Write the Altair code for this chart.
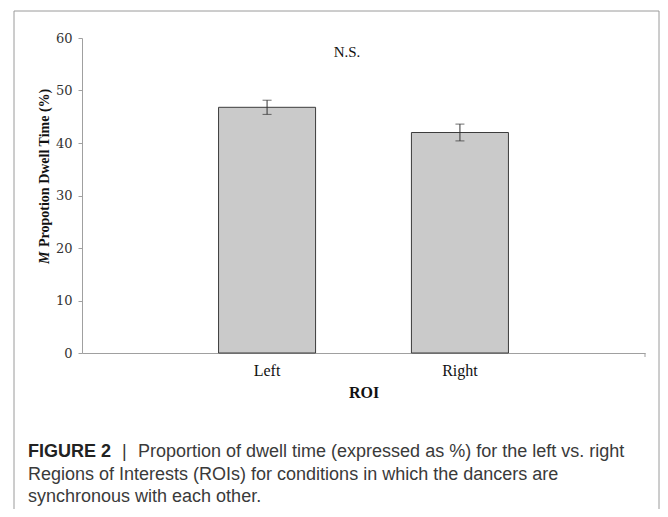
import altair as alt
import pandas as pd

# ---- data ----
rois = ["Left", "Right"]
means = [46.8, 42.0]
errs = [1.35, 1.6]
y_ticks = [0, 10, 20, 30, 40, 50, 60]

caption_bold = "FIGURE 2"
caption_bar = "|"
caption_line1 = "Proportion of dwell time (expressed as %) for the left vs. right"
caption_line2 = "Regions of Interests (ROIs) for conditions in which the dancers are"
caption_line3 = "synchronous with each other."
sig_label = "N.S."
ytitle_italic = "M"
ytitle_rest = "Propotion Dwell Time (%)"

df = pd.DataFrame({
    "roi": rois,
    "mean": means,
    "lo": [m - e for m, e in zip(means, errs)],
    "hi": [m + e for m, e in zip(means, errs)],
})
one = alt.Data(values=[{"k": 0}])

W, H = 563, 315
SERIF = "Liberation Serif"
SANS = "Liberation Sans"

xscale = alt.Scale(domain=rois, paddingInner=0.497, paddingOuter=0.708)
yscale = alt.Scale(domain=[0, 60])

xaxis = alt.Axis(title="ROI", titleFont=SERIF, titleFontWeight="bold", titleFontSize=16,
                 titleColor="#111", labelFont=SERIF, labelFontSize=16, labelColor="#111",
                 labelAngle=0, ticks=False, domainColor="#a0a0a0", labelPadding=9,
                 titlePadding=6, grid=False)
yaxis = alt.Axis(title=None, values=y_ticks, labelFont="DejaVu Serif", labelFontSize=13,
                 labelColor="#333", tickSize=4, tickColor="#a0a0a0", domainColor="#a0a0a0",
                 labelPadding=6, grid=False)

frame = alt.Chart(one).mark_rect(fillOpacity=0, stroke="#9a9a9a", strokeWidth=1).encode(
    x=alt.value(-68), x2=alt.value(577), y=alt.value(-27), y2=alt.value(700)
)

bars = alt.Chart(df).mark_bar(color="#cacaca", stroke="#3c3c3c", strokeWidth=1).encode(
    x=alt.X("roi:N", scale=xscale, axis=xaxis, sort=rois),
    y=alt.Y("mean:Q", scale=yscale, axis=yaxis),
)

err = alt.Chart(df).mark_rule(color="#333", strokeWidth=1).encode(
    x=alt.X("roi:N", scale=xscale, sort=rois), y=alt.Y("lo:Q", scale=yscale), y2="hi:Q"
)
cap_lo = alt.Chart(df).mark_tick(color="#333", size=9, thickness=1).encode(
    x=alt.X("roi:N", scale=xscale, sort=rois), y=alt.Y("lo:Q", scale=yscale)
)
cap_hi = alt.Chart(df).mark_tick(color="#333", size=9, thickness=1).encode(
    x=alt.X("roi:N", scale=xscale, sort=rois), y=alt.Y("hi:Q", scale=yscale)
)

end_tick = alt.Chart(one).mark_rule(color="#a0a0a0").encode(
    x=alt.value(W), y=alt.value(H), y2=alt.value(H + 4)
)

ns = alt.Chart(one).mark_text(font=SERIF, fontSize=15, color="#111", align="center",
                              baseline="middle").encode(
    x=alt.value(265), y=alt.value(14), text=alt.value(sig_label)
)

yt_m = alt.Chart(one).mark_text(font=SERIF, fontSize=14, fontWeight="bold", fontStyle="italic",
                                color="#111", angle=270, align="left", baseline="middle").encode(
    x=alt.value(-37), y=alt.value(226), text=alt.value(ytitle_italic)
)
yt_rest = alt.Chart(one).mark_text(font=SERIF, fontSize=14, fontWeight="bold",
                                   color="#111", angle=270, align="left", baseline="middle").encode(
    x=alt.value(-37), y=alt.value(209), text=alt.value(ytitle_rest)
)

CAP = 18
cap1b = alt.Chart(one).mark_text(font=SANS, fontSize=CAP, fontWeight="bold", color="#222",
                                 align="left", baseline="alphabetic").encode(
    x=alt.value(-54), y=alt.value(419), text=alt.value(caption_bold)
)
cap1bar = alt.Chart(one).mark_text(font=SANS, fontSize=CAP, color="#333",
                                   align="left", baseline="alphabetic").encode(
    x=alt.value(40), y=alt.value(419), text=alt.value(caption_bar)
)
cap1 = alt.Chart(one).mark_text(font=SANS, fontSize=CAP, color="#3a3a3a",
                                align="left", baseline="alphabetic").encode(
    x=alt.value(56), y=alt.value(419), text=alt.value(caption_line1)
)
cap2 = alt.Chart(one).mark_text(font=SANS, fontSize=CAP, color="#3a3a3a",
                                align="left", baseline="alphabetic").encode(
    x=alt.value(-54), y=alt.value(442), text=alt.value(caption_line2)
)
cap3 = alt.Chart(one).mark_text(font=SANS, fontSize=CAP, color="#3a3a3a",
                                align="left", baseline="alphabetic").encode(
    x=alt.value(-54), y=alt.value(464), text=alt.value(caption_line3)
)

chart = alt.layer(
    frame, bars, err, cap_lo, cap_hi, end_tick, ns, yt_m, yt_rest,
    cap1b, cap1bar, cap1, cap2, cap3
).properties(
    width=W, height=H,
    padding={"left": 74, "top": 30, "right": 15, "bottom": 156},
    autosize=alt.AutoSizeParams(type="none"),
    background="white",
).configure_view(strokeWidth=0)

chart.save("out.html", embed_options={"renderer": "svg", "actions": False})
